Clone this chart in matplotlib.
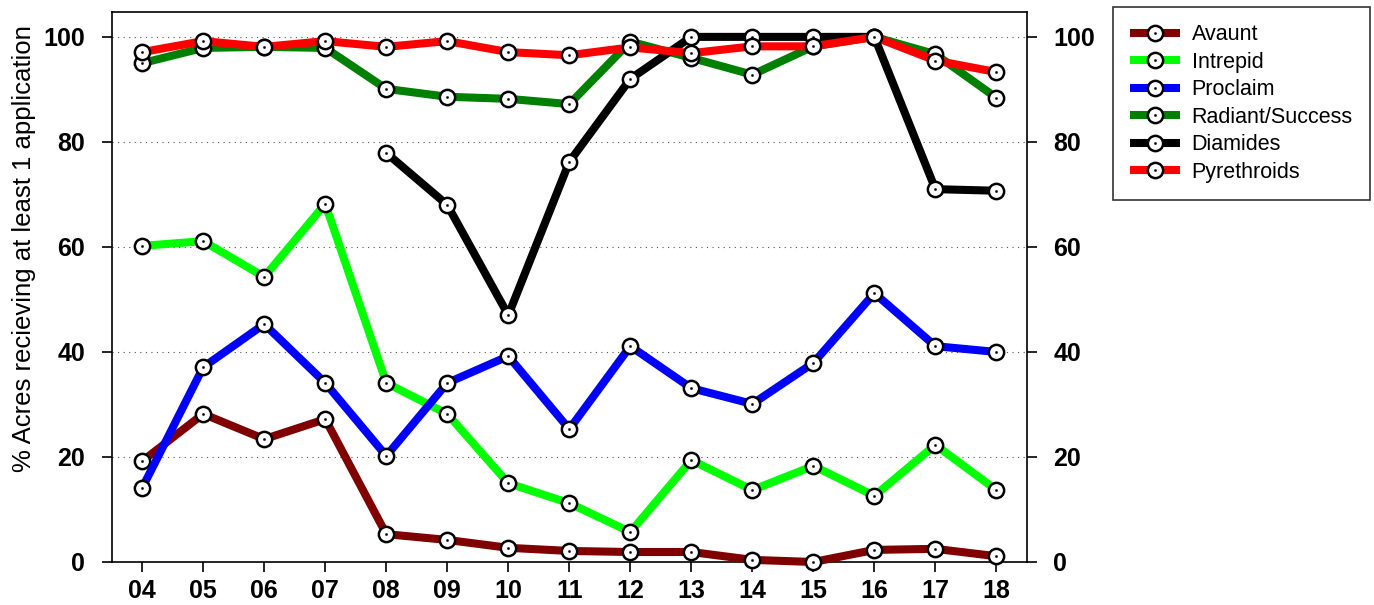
import matplotlib
matplotlib.use("Agg")
import matplotlib.pyplot as plt
from matplotlib.lines import Line2D
from matplotlib.legend_handler import HandlerTuple
import numpy as np

plt.rcParams['font.family'] = ['Liberation Sans', 'DejaVu Sans']

years = [4, 5, 6, 7, 8, 9, 10, 11, 12, 13, 14, 15, 16, 17, 18]
year_labels = ['04', '05', '06', '07', '08', '09', '10', '11', '12', '13', '14', '15', '16', '17', '18']

avaunt = [19.2, 28.2, 23.4, 27.2, 5.3, 4.2, 2.7, 2.1, 1.9, 1.9, 0.4, 0.0, 2.3, 2.5, 1.1]
intrepid = [60.2, 61.1, 54.3, 68.2, 34.1, 28.2, 15.0, 11.2, 5.7, 19.4, 13.7, 18.3, 12.6, 22.3, 13.7]
proclaim = [14.1, 37.1, 45.3, 34.1, 20.2, 34.1, 39.2, 25.3, 41.1, 33.1, 30.1, 37.9, 51.2, 41.1, 40.0]
radiant = [95.0, 97.9, 98.1, 97.9, 90.1, 88.6, 88.2, 87.2, 99.1, 96.0, 92.8, 98.2, 100.0, 96.7, 88.4]
diamides = [np.nan, np.nan, np.nan, np.nan, 77.9, 68.0, 47.0, 76.2, 92.0, 100.0, 100.0, 100.0, 100.0, 71.0, 70.7]
pyrethroids = [97.1, 99.2, 98.1, 99.2, 98.1, 99.2, 97.1, 96.5, 98.0, 96.9, 98.2, 98.2, 100.0, 95.5, 93.3]

series_names = ['Avaunt', 'Intrepid', 'Proclaim', 'Radiant/Success', 'Diamides', 'Pyrethroids']
series_values = [avaunt, intrepid, proclaim, radiant, diamides, pyrethroids]
series_colors = ['#800000', '#00FF00', '#0000FF', '#008000', '#000000', '#FF0000']

fig = plt.figure(figsize=(13.74, 6.05), dpi=100)
ax = fig.add_axes([0.0813, 0.0711, 0.7474 - 0.0813, 0.9807 - 0.0711])

LW = 5.8
MS = 11
MEW = 1.8

handles = []
for i, (name, vals, col) in enumerate(zip(series_names, series_values, series_colors)):
    z = 3 + i
    ax.plot(years, vals, color=col, lw=LW, marker='o', ms=MS, mfc='white',
            mec='black', mew=MEW, zorder=z, solid_capstyle='butt', clip_on=False)
    ax.plot(years, vals, ls='none', marker='o', ms=1.6, mfc='black', mec='black',
            mew=0.3, zorder=z + 0.5, clip_on=False)
    h1 = Line2D([], [], color=col, lw=LW, marker='o', ms=MS, mfc='white', mec='black', mew=MEW,
                solid_capstyle='butt')
    h2 = Line2D([], [], ls='none', marker='o', ms=1.6, mfc='black', mec='black', mew=0.3)
    handles.append((h1, h2))

ax.set_xlim(3.5, 18.5)
ax.set_ylim(0, 104.8)
ax.set_xticks(years)
ax.set_xticklabels(year_labels)
ax.set_yticks([0, 20, 40, 60, 80, 100])

for y in [20, 40, 60, 80, 100]:
    ax.axhline(y, color='#555555', lw=0.8, ls=(0, (1, 4)), zorder=1)

ax.tick_params(axis='x', direction='out', length=7, width=1.2, labelsize=18, pad=5)
ax.tick_params(axis='y', direction='out', length=7, width=1.2, labelsize=18, pad=12,
               right=True, labelright=True)
for lab in ax.get_xticklabels():
    lab.set_fontweight('bold')
for t in ax.yaxis.get_major_ticks():
    t.label1.set_fontweight('bold')
    t.label2.set_fontweight('bold')

for s in ax.spines.values():
    s.set_linewidth(1.2)

ax.set_ylabel('% Acres recieving at least 1 application', fontsize=18.5)
ax.yaxis.set_label_coords(-0.083, 0.57)

leg = fig.legend(handles, series_names, loc='upper left',
                 bbox_to_anchor=(1113 / 1374, 1 - 7 / 605),
                 handler_map={tuple: HandlerTuple(ndivide=1, pad=0)},
                 fontsize=15.5, frameon=True, fancybox=False, edgecolor='black',
                 handlelength=2.3, handletextpad=0.55, labelspacing=0.3,
                 borderpad=0.8, borderaxespad=0)
leg.get_frame().set_linewidth(1.2)

fig.savefig('out.png', dpi=100)
